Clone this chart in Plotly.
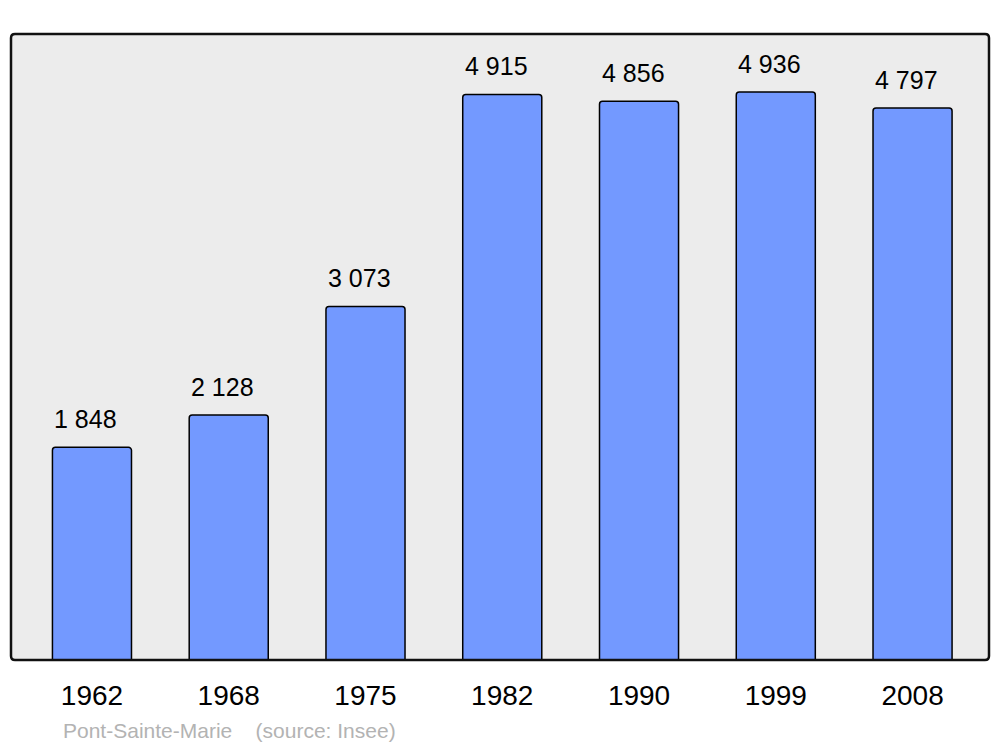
import plotly.graph_objects as go

years = ["1962", "1968", "1975", "1982", "1990", "1999", "2008"]
population = [1848, 2128, 3073, 4915, 4856, 4936, 4797]
value_labels = ["1 848", "2 128", "3 073", "4 915", "4 856", "4 936", "4 797"]
source_text = "Pont-Sainte-Marie&nbsp;&nbsp;&nbsp;&nbsp;(source: Insee)"

FONT = "Liberation Sans, Arial, sans-serif"
xs = list(range(len(years)))

fig = go.Figure()
fig.add_trace(go.Bar(
    x=xs, y=population, width=0.578,
    marker=dict(color="#7399ff", line=dict(color="#000000", width=1.5)),
    hoverinfo="skip",
))

for x, v, t in zip(xs, population, value_labels):
    fig.add_annotation(x=x, y=v, text=t, showarrow=False, xshift=-6, yshift=28,
                       yanchor="middle", xanchor="center",
                       font=dict(family=FONT, size=25, color="#000000"))

fig.add_annotation(xref="paper", yref="paper", x=(61 - 11) / 978, y=(660 - 730) / 626,
                   text=source_text, showarrow=False, xanchor="left", yanchor="middle",
                   font=dict(family=FONT, size=21, color="#b3b3b3"))

# rounded frame
rx, ry = 4 / 978, 4 / 626
path = (f"M {rx},0 L {1-rx},0 Q 1,0 1,{ry} L 1,{1-ry} Q 1,1 {1-rx},1 "
        f"L {rx},1 Q 0,1 0,{1-ry} L 0,{ry} Q 0,0 {rx},0 Z")
fig.add_shape(type="path", xref="paper", yref="paper", path=path,
              line=dict(color="#111111", width=2.5), layer="above")

fig.update_layout(
    width=1000, height=747,
    margin=dict(l=11, r=11, t=34, b=87),
    paper_bgcolor="#ffffff", plot_bgcolor="#ececec",
    barcornerradius=3,
    showlegend=False,
    xaxis=dict(range=[-0.592, 6.559], tickmode="array", tickvals=xs, ticktext=years,
               showgrid=False, zeroline=False, showline=False, ticks="",
               ticklabelstandoff=16,
               tickfont=dict(family=FONT, size=28, color="#000000"), fixedrange=True),
    yaxis=dict(range=[0, 5440], showgrid=False, zeroline=False, showline=False,
               showticklabels=False, ticks="", fixedrange=True),
)

fig.write_html("out.html", config={"displayModeBar": False},
               post_script="document.body.style.margin='0';document.body.style.overflow='hidden';")
